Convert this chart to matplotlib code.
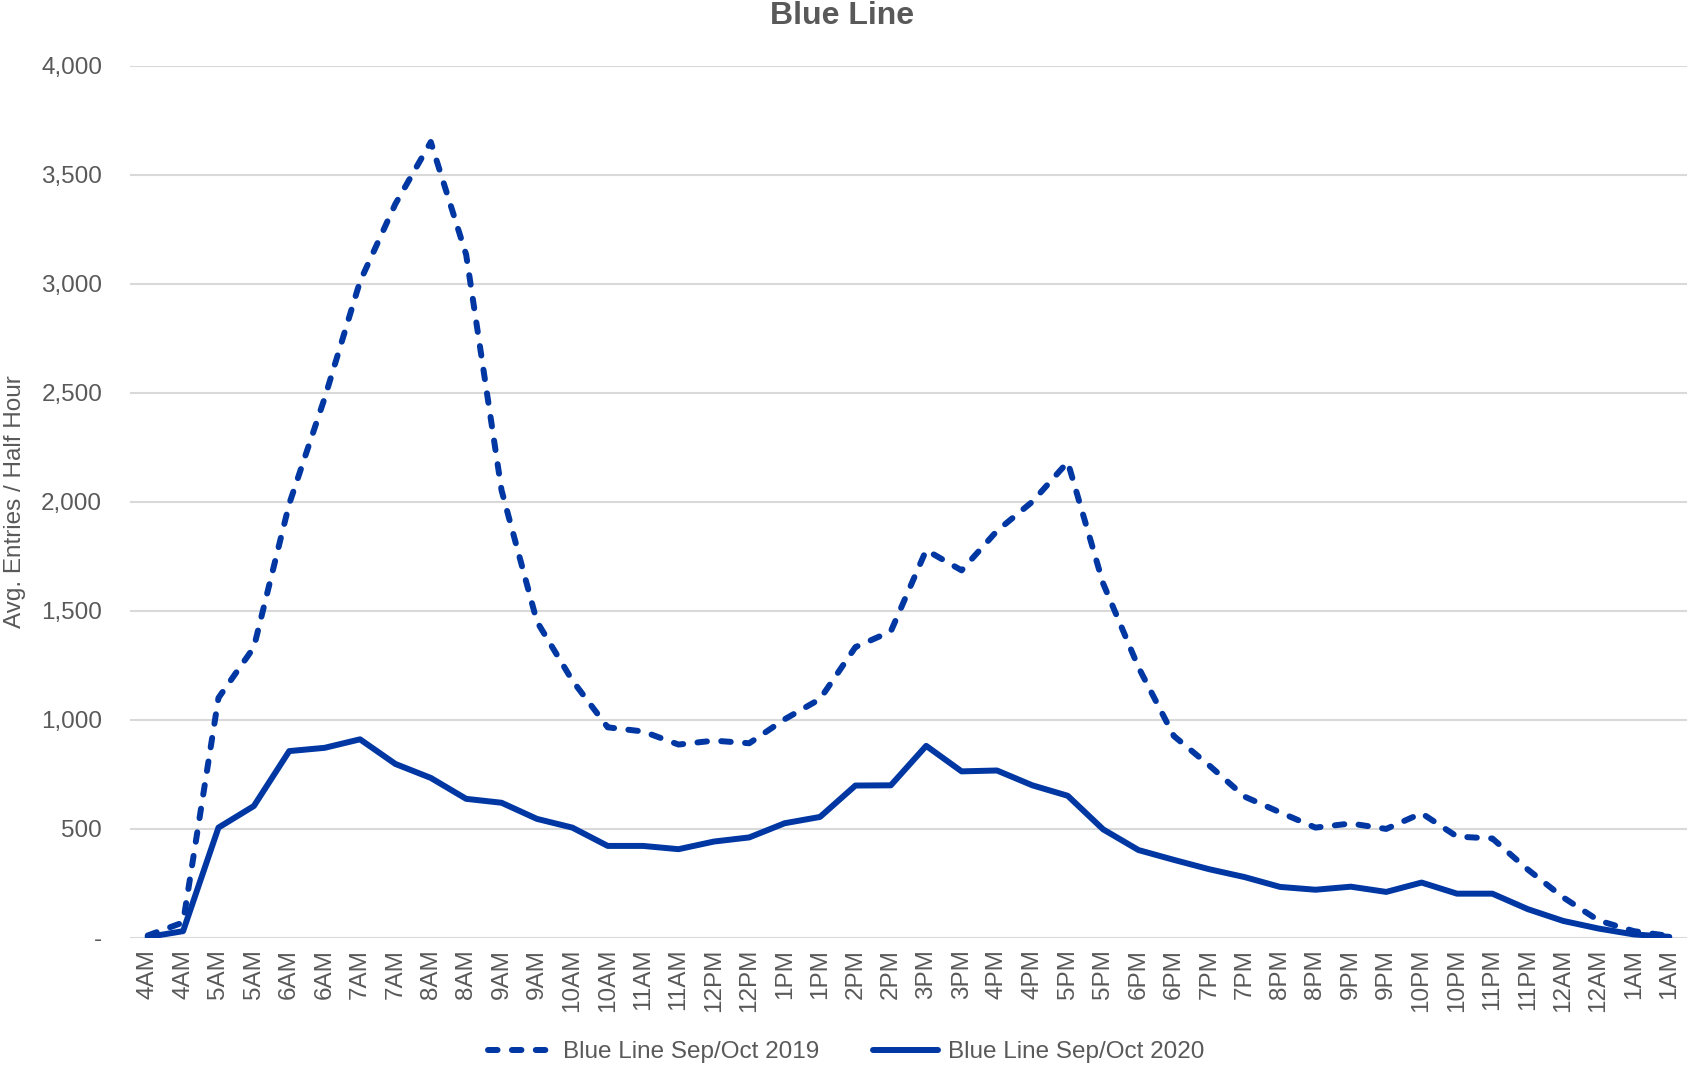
import matplotlib
matplotlib.use("Agg")
import matplotlib.pyplot as plt
import numpy as np

plt.rcParams['font.family'] = ['Liberation Sans', 'DejaVu Sans']

time_labels = ["4AM", "4AM", "5AM", "5AM", "6AM", "6AM", "7AM", "7AM", "8AM", "8AM",
               "9AM", "9AM", "10AM", "10AM", "11AM", "11AM", "12PM", "12PM", "1PM", "1PM",
               "2PM", "2PM", "3PM", "3PM", "4PM", "4PM", "5PM", "5PM", "6PM", "6PM",
               "7PM", "7PM", "8PM", "8PM", "9PM", "9PM", "10PM", "10PM", "11PM", "11PM",
               "12AM", "12AM", "1AM", "1AM"]

entries_2019 = [10, 70, 1100, 1332, 1990, 2475, 3010, 3366, 3650, 3133,
                2052, 1450, 1180, 965, 946, 886, 904, 892, 1002, 1095,
                1333, 1405, 1778, 1685, 1866, 2000, 2182, 1625, 1240, 925,
                790, 647, 575, 505, 524, 499, 571, 464, 455, 313,
                185, 79, 30, 8]

entries_2020 = [3, 30, 505, 604, 856, 871, 910, 797, 733, 637,
                619, 545, 505, 421, 421, 406, 441, 460, 525, 554,
                698, 699, 880, 763, 767, 699, 651, 497, 402, 357,
                314, 278, 233, 220, 234, 210, 253, 202, 202, 131,
                77, 42, 15, 4]

series_names = ["Blue Line Sep/Oct 2019", "Blue Line Sep/Oct 2020"]
y_ticks = [0, 500, 1000, 1500, 2000, 2500, 3000, 3500, 4000]

line_color = "#0037A3"
text_color = "#595959"
grid_color = "#D9D9D9"
fs = 17.5

fig = plt.figure(figsize=(16.9, 10.67), dpi=100)
ax = fig.add_axes([130/1690, 1 - 937.7/1067, (1687-130)/1690, (937.7-65.7)/1067])

x = np.arange(len(time_labels))
ax.plot(x, entries_2019, color=line_color, lw=4.3, linestyle=(0, (1.6, 2.4)),
        dash_capstyle='round', solid_joinstyle='round', dash_joinstyle='round',
        label=series_names[0], zorder=3)
ax.plot(x, entries_2020, color=line_color, lw=4.3, solid_capstyle='round',
        solid_joinstyle='round', label=series_names[1], zorder=3)

ax.set_xlim(-0.5, len(time_labels) - 0.5)
ax.set_ylim(0, 4000)
ax.set_yticks(y_ticks)
ax.set_yticklabels(["-" if v == 0 else f"{v:,}" for v in y_ticks])
ax.set_xticks(x)
ax.set_xticklabels(time_labels, rotation=90)

ax.grid(axis='y', color=grid_color, lw=1.5, zorder=0)
ax.set_axisbelow(True)
for s in ax.spines.values():
    s.set_visible(False)
ax.tick_params(axis='both', length=0, labelsize=fs, colors=text_color)
ax.tick_params(axis='y', pad=20)
ax.tick_params(axis='x', pad=8)

ax.set_ylabel("Avg. Entries / Half Hour", fontsize=fs, color=text_color)
ax.yaxis.set_label_coords(-104/1557, 0.5)

fig.text(842/1690, 1 - 16/1067, "Blue Line", ha='center', va='center',
         fontsize=23, fontweight='bold', color=text_color)

leg = fig.legend(loc='center', bbox_to_anchor=(846/1690, 1 - 1052/1067), ncol=2,
                 frameon=False, fontsize=fs, handlelength=2.7, columnspacing=2.2,
                 handletextpad=0.4)
for t in leg.get_texts():
    t.set_color(text_color)

fig.savefig("out.png", dpi=100)
